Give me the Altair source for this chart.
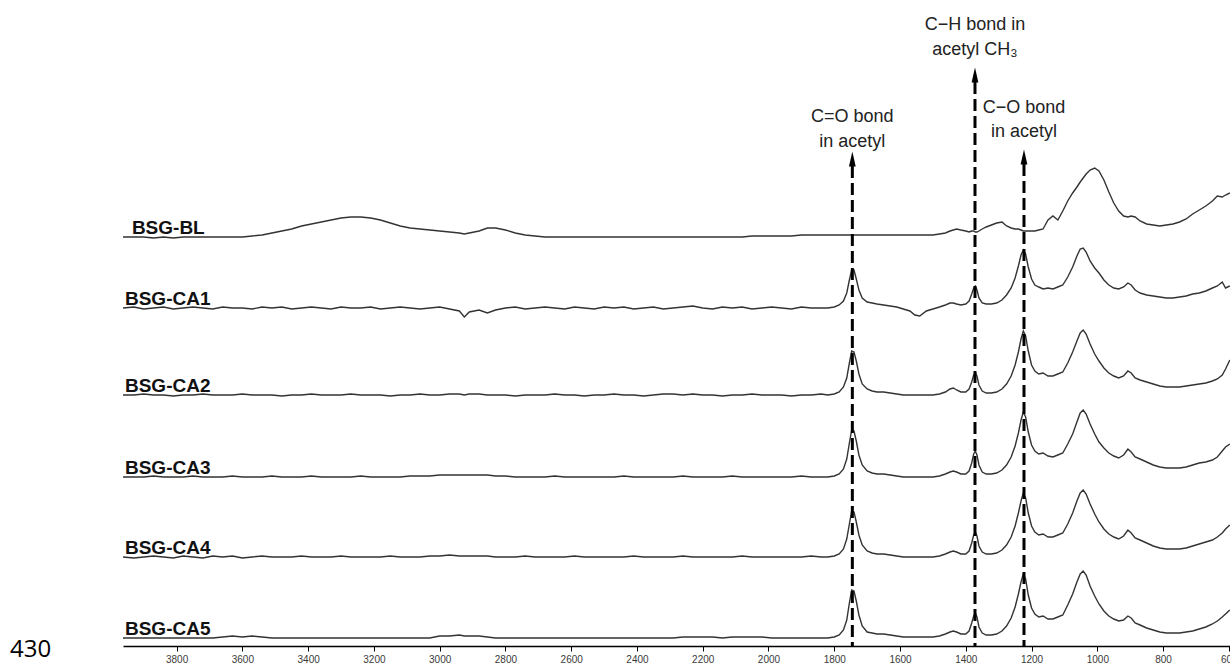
import altair as alt
import pandas as pd

# ---------------- data ----------------
# wavenumber grid (cm-1), high-wavenumber part and fingerprint part
wn_high = [3963, 3930, 3900, 3870, 3840, 3810, 3780, 3750, 3720, 3690,
           3660, 3630, 3600, 3570, 3540, 3510, 3480, 3450, 3420, 3390,
           3360, 3330, 3300, 3270, 3240, 3210, 3180, 3150, 3120, 3090,
           3060, 3030, 3000, 2970, 2940, 2925, 2910, 2880, 2855, 2830,
           2800, 2770, 2740, 2710, 2680, 2650, 2620, 2590, 2560, 2530,
           2500, 2470, 2440, 2410, 2380, 2350, 2320, 2290, 2260, 2230,
           2200, 2170, 2140, 2110, 2080, 2050, 2020, 1990, 1960, 1930,
           1900, 1870, 1840]
wn_fp = [1820, 1800, 1785, 1772, 1762, 1754, 1747, 1740, 1733, 1725,
         1715, 1700, 1685, 1670, 1650, 1630, 1610, 1590, 1570, 1555,
         1540, 1520, 1500, 1480, 1462, 1448, 1438, 1428, 1415, 1400,
         1390, 1382, 1376, 1371, 1366, 1360, 1350, 1338, 1322, 1306,
         1290, 1276, 1262, 1250, 1240, 1232, 1225, 1218, 1210, 1200,
         1190, 1178, 1165, 1150, 1135, 1120, 1105, 1090, 1075, 1062,
         1052, 1043, 1034, 1022, 1008, 995, 980, 965, 950, 935,
         920, 907, 897, 885, 870, 850, 830, 810, 790, 770,
         750, 730, 710, 690, 670, 650, 635, 620, 610, 597]
wavenumber = wn_high + wn_fp

series_names = ["BSG-BL", "BSG-CA1", "BSG-CA2", "BSG-CA3", "BSG-CA4", "BSG-CA5"]
# vertical stacking offsets (a.u. x100)
offsets = [409, 338, 251, 169, 89, 8]

# absorbance (a.u. x100) above each trace's own baseline
bl = ([0, 0, 0, -1, 0, -1, 0, 0, 0, 0,
       0, 0, 0, 1, 2, 4, 6, 8, 11, 13,
       15, 17, 19, 20, 20, 19, 17, 14, 11, 9,
       8, 7, 6, 5, 4, 3, 4, 6, 9, 9,
       7, 4, 2, 1, 0, 0, 0, 0, 0, 0,
       0, 0, 0, 0, 0, 0, 0, 0, 0, 0,
       0, 0, 0, 0, 0, 1, 1, 1, 1, 1,
       2, 2, 2] +
      [2, 2, 2, 2, 2, 2, 2, 2, 2, 2,
       2, 2, 2, 2, 2, 2, 2, 2, 2, 2,
       2, 2, 2, 3, 4, 6, 7, 8, 7, 6,
       5, 6, 6, 5, 5, 6, 8, 10, 12, 14,
       15, 11, 9, 8, 8, 7, 6, 6, 6, 6,
       6, 7, 8, 17, 21, 17, 26, 36, 44, 50,
       55, 59, 63, 67, 69, 66, 57, 45, 34, 26,
       21, 20, 21, 20, 16, 13, 12, 11, 12, 13,
       15, 18, 23, 27, 31, 36, 41, 40, 42, 44])

ca1 = ([0, 1, -1, 0, 1, -1, 0, 1, 0, -1,
        1, 0, 0, -1, 1, 0, 1, -1, 0, 1,
        0, -1, 1, 0, 0, 1, -1, 0, 1, 0,
        -1, 0, 1, -1, -3, -9, -4, -2, -5, -2,
        0, 1, -1, 0, 1, 0, -1, 1, 0, -1,
        1, 0, 1, -1, 0, 1, -1, 0, 1, 2,
        0, -1, 1, 0, 1, -1, 0, 1, 0, -1,
        1, 0, 0] +
       [0, 1, 3, 7, 15, 28, 38, 38, 29, 18,
        10, 6, 5, 4, 3, 2, 1, -1, -3, -7,
        -8, -3, -1, 1, 3, 5, 5, 4, 3, 4,
        7, 14, 20, 22, 18, 10, 5, 4, 4, 5,
        8, 13, 20, 30, 42, 53, 58, 54, 41, 29,
        23, 21, 19, 20, 19, 21, 23, 31, 41, 52,
        59, 60, 56, 47, 40, 35, 28, 23, 20, 19,
        21, 25, 23, 18, 15, 13, 12, 11, 10, 10,
        11, 12, 14, 15, 17, 20, 22, 26, 20, 22])

ca2 = ([0, 0, 1, 0, 0, -1, 0, 0, 1, 0,
        0, 0, 1, 0, 0, 0, -1, 0, 0, 1,
        0, 0, 0, 1, 0, 0, 0, -1, 0, 0,
        1, 0, 0, 1, 1, 0, 1, 1, 0, 0,
        0, -1, 0, 0, 0, 1, 0, 0, -1, 0,
        0, 1, 0, 0, -1, 0, 1, 1, 0, 1,
        0, 0, -1, 0, 0, 1, 0, 0, 0, -1,
        0, 0, 1] +
       [0, 1, 3, 8, 17, 32, 44, 43, 34, 21,
        11, 6, 4, 3, 3, 2, 1, 0, 0, 0,
        0, 0, 0, 1, 3, 6, 7, 5, 3, 3,
        6, 13, 20, 22, 19, 10, 4, 2, 2, 3,
        6, 11, 19, 30, 43, 56, 64, 59, 44, 30,
        24, 21, 22, 19, 19, 21, 23, 32, 43, 54,
        62, 65, 61, 51, 41, 34, 27, 22, 19, 17,
        19, 24, 22, 17, 15, 13, 11, 9, 8, 8,
        8, 9, 10, 11, 12, 14, 16, 20, 26, 35])

ca3 = ([0, 0, 0, 1, 0, 0, 0, 1, 0, 0,
        0, 1, 0, 0, 0, 1, 0, 0, 0, 1,
        0, 0, 0, 0, 1, 0, 0, 0, 0, 1,
        1, 1, 2, 2, 2, 2, 2, 2, 2, 1,
        1, 0, 0, 0, 0, 1, 0, 0, 0, 0,
        0, 0, 1, 0, 0, 0, 0, 0, 1, 0,
        0, 0, 0, 1, 0, 0, 0, 0, 0, 0,
        1, 0, 0] +
       [0, 1, 3, 8, 18, 34, 47, 46, 36, 22,
        12, 6, 4, 3, 3, 2, 1, 0, 0, 0,
        0, 0, 0, 1, 3, 5, 6, 5, 3, 3,
        6, 14, 23, 26, 22, 12, 5, 3, 3, 4,
        7, 12, 20, 31, 44, 57, 65, 60, 45, 32,
        26, 23, 24, 21, 20, 22, 24, 33, 43, 55,
        64, 67, 63, 53, 43, 35, 29, 24, 21, 19,
        22, 28, 25, 20, 18, 15, 12, 10, 9, 9,
        9, 10, 12, 14, 15, 17, 20, 26, 30, 33])

ca4 = ([0, -1, 0, 1, 0, -1, 1, 0, -1, 1,
        0, 1, -1, 0, 1, 0, 0, 0, 1, 0,
        0, 0, 1, 0, 0, 0, 0, 1, 0, 0,
        0, 1, 1, 2, 1, 1, 1, 1, 1, 0,
        0, 0, 1, 0, 0, 0, 0, 1, 0, 0,
        0, 0, 0, 1, 0, 0, 0, 0, 1, 0,
        0, 0, 0, 0, 1, 0, 0, 0, 0, 0,
        0, 1, 0] +
       [0, 1, 3, 8, 18, 33, 46, 45, 35, 22,
        12, 6, 4, 3, 3, 2, 1, 0, 0, 0,
        0, 0, 0, 1, 3, 5, 6, 5, 3, 3,
        6, 14, 22, 25, 21, 11, 5, 3, 3, 4,
        7, 12, 20, 31, 44, 56, 64, 59, 44, 31,
        25, 22, 23, 20, 20, 22, 24, 33, 44, 56,
        64, 67, 63, 53, 43, 35, 28, 23, 20, 18,
        21, 27, 24, 19, 17, 14, 11, 9, 8, 8,
        8, 9, 11, 13, 15, 17, 20, 24, 28, 32])

ca5 = ([0, 0, 0, 0, 0, 0, 0, 0, 0, 0,
        1, 2, 1, 2, 1, 0, 0, 0, 0, 0,
        0, 0, 0, 0, 0, 0, 0, 0, 0, 0,
        0, 0, 2, 2, 3, 2, 2, 2, 1, 0,
        0, 0, 0, 0, 0, 0, 0, 0, 0, 0,
        0, 0, 0, 0, 0, 0, 0, 0, 1, 1,
        1, 1, 0, 1, 1, 1, 1, 0, 0, 0,
        0, 0, 0] +
       [0, 1, 3, 8, 18, 35, 48, 47, 37, 23,
        12, 6, 5, 4, 4, 3, 2, 1, 1, 1,
        1, 1, 1, 2, 4, 6, 7, 6, 4, 4,
        7, 15, 22, 25, 21, 11, 5, 3, 3, 4,
        7, 12, 20, 31, 44, 56, 64, 59, 43, 30,
        24, 21, 22, 19, 19, 21, 23, 33, 44, 56,
        64, 67, 63, 52, 42, 34, 27, 22, 19, 17,
        18, 22, 20, 15, 13, 10, 8, 6, 5, 5,
        5, 6, 7, 9, 11, 14, 17, 21, 24, 28])

tick_values = [3800, 3600, 3400, 3200, 3000, 2800, 2600, 2400, 2200,
               2000, 1800, 1600, 1400, 1200, 1000, 800, 600]

# annotated bands: wavenumber, top of arrow (a.u.), text lines, text levels (a.u.)
band_wn = [1745, 1372, 1223]
band_top = [4.80, 5.64, 4.82]
band_head = [4.87, 5.71, 4.89]
band_text = [["C=O bond", "in acetyl"], ["C\u2212H bond in", "acetyl CH\u2083"],
             ["C\u2212O bond", "in acetyl"]]
band_text_y = [[5.29, 5.04], [6.21, 5.96], [5.38, 5.14]]

# ---------------- tables ----------------
rows = []
for name, off, vals in zip(series_names, offsets,
                           [bl, ca1, ca2, ca3, ca4, ca5]):
    assert len(vals) == len(wavenumber), (name, len(vals))
    for w, v in zip(wavenumber, vals):
        rows.append({"wn": w, "a": (v + off) / 100.0, "series": name})
spec = pd.DataFrame(rows)

label_wn = [3936, 3957, 3957, 3957, 3957, 3957]
labels = pd.DataFrame({"wn": label_wn,
                       "a": [(o + 3) / 100.0 for o in offsets],
                       "series": series_names})

rules = pd.DataFrame({"wn": band_wn, "top": band_top, "base": [0.0] * 3})
heads = pd.DataFrame({"wn": band_wn, "a": band_head})
txt_rows = []
for w, lines, ys in zip(band_wn, band_text, band_text_y):
    for t, yv in zip(lines, ys):
        txt_rows.append({"wn": w, "a": yv, "t": t})
texts = pd.DataFrame(txt_rows)

# ---------------- chart ----------------
xscale = alt.Scale(domain=[596.5, 3963], reverse=True, nice=False, zero=False)
yscale = alt.Scale(domain=[0, 6.46], nice=False, zero=False)

x_axis = alt.Axis(values=tick_values, title=None, grid=False, format="d",
                  labelFont="Liberation Sans", labelFontSize=10,
                  labelColor="#3a3a3a", tickColor="#000", tickSize=5,
                  tickWidth=1, domainColor="#000", domainWidth=1.6,
                  labelPadding=3, labelFlush=False, labelOverlap=False)

lines = alt.Chart(spec).mark_line(color="#333333", strokeWidth=1.4,
                                  interpolate="linear").encode(
    x=alt.X("wn:Q", scale=xscale, axis=x_axis),
    y=alt.Y("a:Q", scale=yscale, axis=None),
    detail="series:N",
    order="wn:Q",
)

dashed = alt.Chart(rules).mark_rule(color="#000", strokeWidth=3,
                                    strokeDash=[12, 5]).encode(
    x="wn:Q", y="top:Q", y2="base:Q")

arrowheads = alt.Chart(heads).mark_point(
    shape="M0,-1L-0.45,1L0.45,1Z", filled=True, color="#000",
    size=225, opacity=1).encode(x="wn:Q", y="a:Q")

band_labels = alt.Chart(texts).mark_text(
    font="Liberation Sans", fontSize=18, color="#222", align="center",
    baseline="middle").encode(x="wn:Q", y="a:Q", text="t:N")

series_labels = alt.Chart(labels).mark_text(
    font="Liberation Sans", fontSize=19, fontWeight="bold", color="#111",
    align="left", baseline="alphabetic").encode(
    x="wn:Q", y="a:Q", text="series:N")

page_no = alt.Chart(pd.DataFrame({"t": ["430"]})).mark_text(
    font="Open Sans", fontSize=24, color="#000", align="left",
    baseline="top").encode(x=alt.value(-113), y=alt.value(638), text="t:N")

chart = alt.layer(lines, dashed, arrowheads, band_labels, series_labels,
                  page_no).properties(
    width=1107, height=646,
    autosize=alt.AutoSizeParams(type="none"),
    padding={"left": 123, "right": 0, "top": 0, "bottom": 20},
    background="white",
).configure_view(stroke=None)

chart.save("out.html", embed_options={"renderer": "svg", "actions": False})
